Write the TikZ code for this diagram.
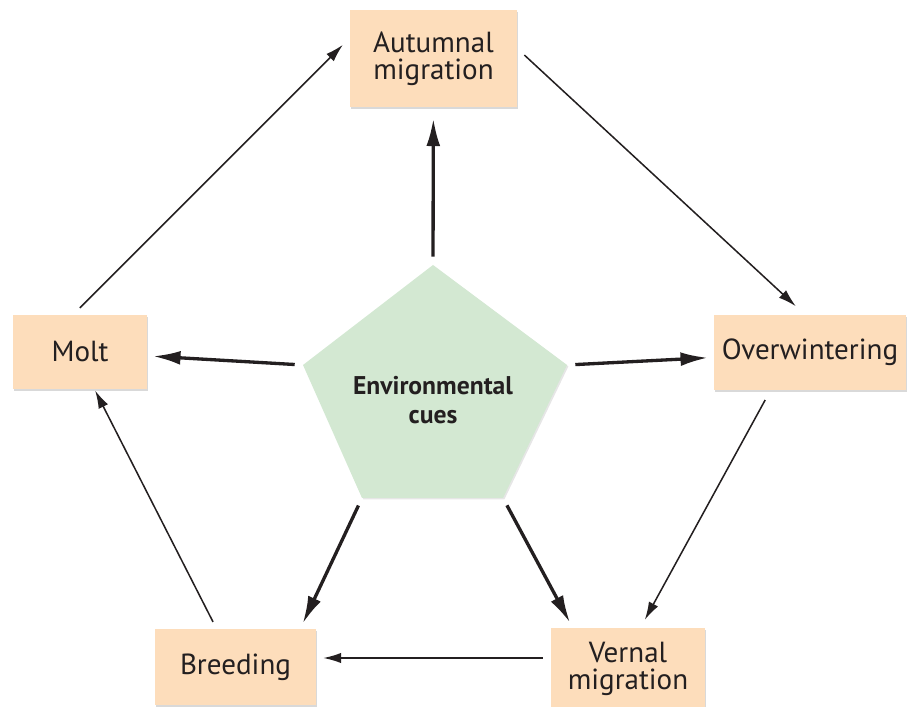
\documentclass[tikz,border=0pt]{standalone}
\usepackage{fontspec}
\setmainfont{PT Sans}
\usetikzlibrary{arrows.meta,shadows}
\definecolor{stagefill}{HTML}{FDDDBB}
\definecolor{cuefill}{HTML}{D3E8D2}
\definecolor{ink}{HTML}{231F20}

\begin{document}
\begin{tikzpicture}[x=1in,y=1in,
  stage/.style={fill=stagefill, inner sep=0pt, align=center, text=ink,
    font=\fontsize{21}{19.5}\selectfont,
    drop shadow={shadow xshift=1pt, shadow yshift=-1.2pt, opacity=0.3}},
  cuearrow/.style={-{Latex[length=20pt,width=10pt]}, line width=2.4pt, ink, shorten <=6pt, shorten >=4pt},
  turnarrow/.style={-{Latex[length=13pt,width=7.5pt]}, line width=1.1pt, ink}]
\useasboundingbox (0,0) rectangle (9.08,7.07);
\node[stage, minimum width=1.67in, minimum height=0.97in] (autumn) at (4.335,6.485) {Autumnal\\migration};
\node[stage, minimum width=1.92in, minimum height=0.75in] (over) at (8.10,3.545) {Overwintering};
\node[stage, minimum width=1.54in, minimum height=0.81in] (vernal) at (6.28,0.385) {Vernal\\migration};
\node[stage, minimum width=1.61in, minimum height=0.76in] (breed) at (2.355,0.40) {Breeding};
\node[stage, minimum width=1.34in, minimum height=0.74in] (molt) at (0.80,3.55) {Molt};
\coordinate (ptop) at (4.33,4.42);
\coordinate (pright) at (5.67,3.42);
\coordinate (pbr) at (5.03,2.09);
\coordinate (pbl) at (3.62,2.09);
\coordinate (pleft) at (3.03,3.42);
\fill[cuefill, drop shadow={shadow xshift=1pt, shadow yshift=-1pt, opacity=0.2}] (ptop) -- (pright) -- (pbr) -- (pbl) -- (pleft) -- cycle;
\node[font=\fontsize{18.5}{21}\selectfont\bfseries, align=center, text=ink] (cues) at (4.33,3.07) {Environmental\\cues};
\draw[cuearrow, shorten >=8pt] (ptop) -- (autumn);
\draw[cuearrow] (pright) -- (over);
\draw[cuearrow] (pleft) -- (molt);
\draw[cuearrow] (pbl) -- ([xshift=-0.16in]breed.north east);
\draw[cuearrow] (pbr) -- ([xshift=0.22in]vernal.north west);
\draw[turnarrow, shorten <=7pt, shorten >=7pt] ([xshift=-0.07in]molt.north) -- ([yshift=0.205in]autumn.west);
\draw[turnarrow, shorten <=7pt, shorten >=9pt] ([yshift=0.10in]autumn.east) -- ([xshift=-0.05in]over.north);
\draw[turnarrow, shorten <=8pt, shorten >=6.5pt] ([xshift=-0.395in]over.south) -- ([xshift=0.125in]vernal.north);
\draw[turnarrow, shorten <=5.8pt, shorten >=5pt] ([yshift=0.105in]vernal.west) -- ([yshift=0.09in]breed.east);
\draw[turnarrow, shorten <=5.5pt, shorten >=1pt] ([xshift=-0.19in]breed.north) -- ([xshift=0.145in]molt.south);
\end{tikzpicture}
\end{document}
